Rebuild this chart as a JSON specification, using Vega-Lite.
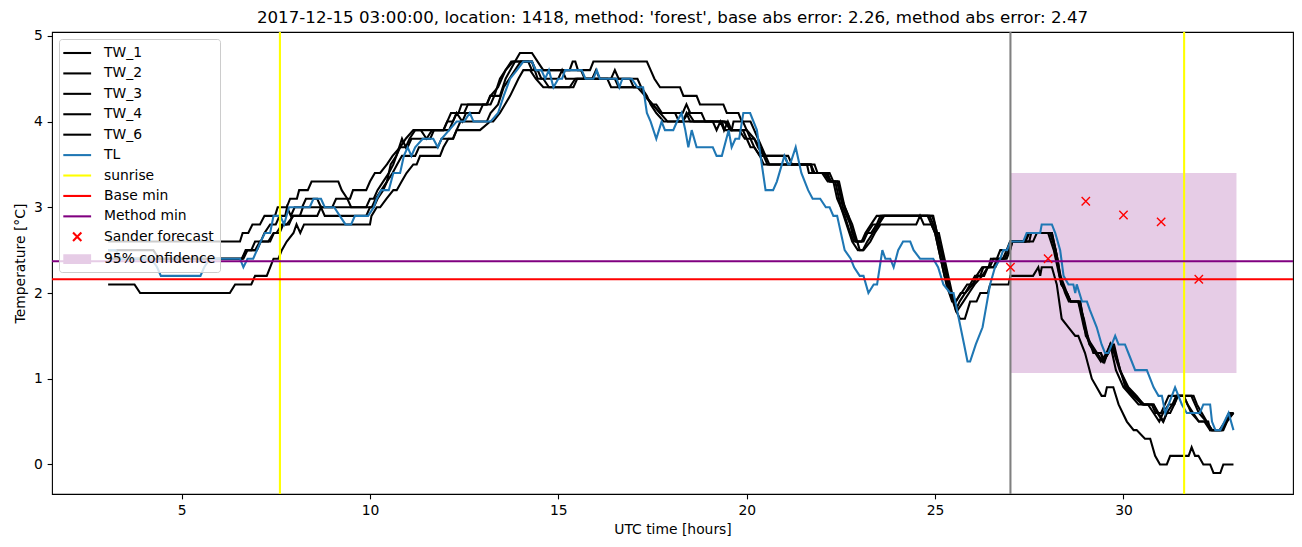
{
"$schema": "https://vega.github.io/schema/vega-lite/v6.json",
"width": 1241, "height": 462,
"autosize": "none",
"padding": {"left": 52, "top": 32, "right": 9, "bottom": 53},
"background": "white",
"title": {"text": "2017-12-15 03:00:00, location: 1418, method: 'forest', base abs error: 2.26, method abs error: 2.47", "font": "DejaVu Sans", "fontSize": 16.67, "fontWeight": "normal", "color": "black", "anchor": "middle", "frame": "group", "offset": -11, "baseline": "alphabetic"},
"config": {
 "view": {"stroke": "black", "strokeWidth": 1.1},
 "font": "DejaVu Sans",
 "axis": {"domain": false, "grid": false, "tickColor": "black", "tickSize": 4.86, "tickWidth": 1.1, "labelFont": "DejaVu Sans", "labelFontSize": 13.89, "labelColor": "black", "labelPadding": 4.86, "labelFlush": false, "titleFont": "DejaVu Sans", "titleFontSize": 13.89, "titleFontWeight": "normal", "titleColor": "black"},
 "axisX": {"titlePadding": 5},
 "axisY": {"titlePadding": 6}
},
"datasets": {
 "tw": [
{"s":"TW_1","h":3.05,"v":2.1},{"s":"TW_1","h":3.75,"v":2.1},{"s":"TW_1","h":3.9,"v":2.0},{"s":"TW_1","h":6.28,"v":2.0},{"s":"TW_1","h":6.42,"v":2.1},{"s":"TW_1","h":6.85,"v":2.1},{"s":"TW_1","h":6.95,"v":2.2},{"s":"TW_1","h":7.26,"v":2.2},{"s":"TW_1","h":7.35,"v":2.3},{"s":"TW_1","h":7.44,"v":2.4},{"s":"TW_1","h":7.57,"v":2.4},{"s":"TW_1","h":7.66,"v":2.5},{"s":"TW_1","h":7.79,"v":2.6},{"s":"TW_1","h":7.97,"v":2.7},{"s":"TW_1","h":8.05,"v":2.8},{"s":"TW_1","h":8.15,"v":2.7},{"s":"TW_1","h":8.25,"v":2.8},{"s":"TW_1","h":10.0,"v":2.8},{"s":"TW_1","h":10.04,"v":2.9},{"s":"TW_1","h":10.18,"v":3.0},{"s":"TW_1","h":10.27,"v":3.0},{"s":"TW_1","h":10.44,"v":3.1},{"s":"TW_1","h":10.62,"v":3.2},{"s":"TW_1","h":10.71,"v":3.2},{"s":"TW_1","h":10.84,"v":3.3},{"s":"TW_1","h":10.97,"v":3.4},{"s":"TW_1","h":11.15,"v":3.5},{"s":"TW_1","h":11.24,"v":3.5},{"s":"TW_1","h":11.33,"v":3.6},{"s":"TW_1","h":11.86,"v":3.6},{"s":"TW_1","h":11.95,"v":3.7},{"s":"TW_1","h":12.08,"v":3.8},{"s":"TW_1","h":12.21,"v":3.8},{"s":"TW_1","h":12.3,"v":3.9},{"s":"TW_1","h":12.92,"v":3.9},{"s":"TW_1","h":13.19,"v":4.0},{"s":"TW_1","h":13.27,"v":4.0},{"s":"TW_1","h":13.45,"v":4.1},{"s":"TW_1","h":13.72,"v":4.3},{"s":"TW_1","h":13.94,"v":4.5},{"s":"TW_1","h":14.07,"v":4.6},{"s":"TW_1","h":14.25,"v":4.6},{"s":"TW_1","h":14.4,"v":4.5},{"s":"TW_1","h":14.6,"v":4.4},{"s":"TW_1","h":15.3,"v":4.4},{"s":"TW_1","h":15.45,"v":4.5},{"s":"TW_1","h":16.3,"v":4.5},{"s":"TW_1","h":16.4,"v":4.4},{"s":"TW_1","h":17.1,"v":4.4},{"s":"TW_1","h":17.3,"v":4.3},{"s":"TW_1","h":17.5,"v":4.2},{"s":"TW_1","h":17.7,"v":4.1},{"s":"TW_1","h":17.9,"v":4.0},{"s":"TW_1","h":18.3,"v":4.0},{"s":"TW_1","h":18.45,"v":4.1},{"s":"TW_1","h":18.6,"v":4.0},{"s":"TW_1","h":19.4,"v":4.0},{"s":"TW_1","h":19.6,"v":3.9},{"s":"TW_1","h":20.0,"v":3.9},{"s":"TW_1","h":20.2,"v":3.8},{"s":"TW_1","h":20.35,"v":3.7},{"s":"TW_1","h":20.5,"v":3.6},{"s":"TW_1","h":20.6,"v":3.5},{"s":"TW_1","h":21.7,"v":3.5},{"s":"TW_1","h":21.8,"v":3.4},{"s":"TW_1","h":22.2,"v":3.4},{"s":"TW_1","h":22.3,"v":3.3},{"s":"TW_1","h":22.45,"v":3.3},{"s":"TW_1","h":22.6,"v":3.0},{"s":"TW_1","h":22.8,"v":2.8},{"s":"TW_1","h":23.0,"v":2.5},{"s":"TW_1","h":23.1,"v":2.5},{"s":"TW_1","h":23.28,"v":2.6},{"s":"TW_1","h":23.4,"v":2.7},{"s":"TW_1","h":23.55,"v":2.8},{"s":"TW_1","h":24.5,"v":2.8},{"s":"TW_1","h":24.6,"v":2.9},{"s":"TW_1","h":24.7,"v":2.8},{"s":"TW_1","h":24.9,"v":2.8},{"s":"TW_1","h":25.0,"v":2.7},{"s":"TW_1","h":25.1,"v":2.7},{"s":"TW_1","h":25.25,"v":2.4},{"s":"TW_1","h":25.4,"v":2.1},{"s":"TW_1","h":25.55,"v":1.8},{"s":"TW_1","h":25.66,"v":1.7},{"s":"TW_1","h":25.79,"v":1.7},{"s":"TW_1","h":25.93,"v":1.9},{"s":"TW_1","h":26.1,"v":1.9},{"s":"TW_1","h":26.2,"v":2.0},{"s":"TW_1","h":26.4,"v":2.0},{"s":"TW_1","h":26.46,"v":2.1},{"s":"TW_1","h":26.95,"v":2.1},{"s":"TW_1","h":27.0,"v":2.2},{"s":"TW_1","h":27.6,"v":2.2},{"s":"TW_1","h":27.74,"v":2.3},{"s":"TW_1","h":27.79,"v":2.2},{"s":"TW_1","h":27.83,"v":2.3},{"s":"TW_1","h":28.1,"v":2.3},{"s":"TW_1","h":28.23,"v":2.1},{"s":"TW_1","h":28.36,"v":1.7},{"s":"TW_1","h":28.54,"v":1.6},{"s":"TW_1","h":28.72,"v":1.5},{"s":"TW_1","h":28.8,"v":1.5},{"s":"TW_1","h":28.98,"v":1.3},{"s":"TW_1","h":29.16,"v":1.0},{"s":"TW_1","h":29.29,"v":0.9},{"s":"TW_1","h":29.42,"v":0.8},{"s":"TW_1","h":29.51,"v":0.8},{"s":"TW_1","h":29.56,"v":0.9},{"s":"TW_1","h":29.73,"v":0.9},{"s":"TW_1","h":29.87,"v":0.7},{"s":"TW_1","h":30.09,"v":0.5},{"s":"TW_1","h":30.27,"v":0.4},{"s":"TW_1","h":30.35,"v":0.4},{"s":"TW_1","h":30.57,"v":0.3},{"s":"TW_1","h":30.71,"v":0.3},{"s":"TW_1","h":30.84,"v":0.1},{"s":"TW_1","h":30.97,"v":0.0},{"s":"TW_1","h":31.15,"v":0.0},{"s":"TW_1","h":31.24,"v":0.1},{"s":"TW_1","h":31.73,"v":0.1},{"s":"TW_1","h":31.81,"v":0.2},{"s":"TW_1","h":31.9,"v":0.1},{"s":"TW_1","h":31.99,"v":0.1},{"s":"TW_1","h":32.12,"v":0.0},{"s":"TW_1","h":32.3,"v":0.0},{"s":"TW_1","h":32.39,"v":-0.1},{"s":"TW_1","h":32.57,"v":-0.1},{"s":"TW_1","h":32.65,"v":0.0},{"s":"TW_1","h":32.92,"v":0.0},
{"s":"TW_2","h":3.05,"v":2.6},{"s":"TW_2","h":6.55,"v":2.6},{"s":"TW_2","h":6.62,"v":2.7},{"s":"TW_2","h":6.77,"v":2.7},{"s":"TW_2","h":6.88,"v":2.8},{"s":"TW_2","h":7.08,"v":2.8},{"s":"TW_2","h":7.2,"v":2.9},{"s":"TW_2","h":7.48,"v":2.9},{"s":"TW_2","h":7.55,"v":3.0},{"s":"TW_2","h":7.79,"v":3.0},{"s":"TW_2","h":7.88,"v":3.1},{"s":"TW_2","h":8.06,"v":3.1},{"s":"TW_2","h":8.12,"v":3.2},{"s":"TW_2","h":8.35,"v":3.2},{"s":"TW_2","h":8.45,"v":3.3},{"s":"TW_2","h":9.16,"v":3.3},{"s":"TW_2","h":9.25,"v":3.2},{"s":"TW_2","h":9.4,"v":3.1},{"s":"TW_2","h":9.47,"v":3.1},{"s":"TW_2","h":9.55,"v":3.2},{"s":"TW_2","h":9.9,"v":3.2},{"s":"TW_2","h":10.0,"v":3.3},{"s":"TW_2","h":10.13,"v":3.4},{"s":"TW_2","h":10.27,"v":3.4},{"s":"TW_2","h":10.45,"v":3.5},{"s":"TW_2","h":10.6,"v":3.6},{"s":"TW_2","h":10.8,"v":3.7},{"s":"TW_2","h":10.95,"v":3.8},{"s":"TW_2","h":11.15,"v":3.9},{"s":"TW_2","h":11.95,"v":3.9},{"s":"TW_2","h":12.05,"v":4.0},{"s":"TW_2","h":12.15,"v":4.1},{"s":"TW_2","h":12.35,"v":4.1},{"s":"TW_2","h":12.43,"v":4.2},{"s":"TW_2","h":13.1,"v":4.2},{"s":"TW_2","h":13.19,"v":4.3},{"s":"TW_2","h":13.45,"v":4.3},{"s":"TW_2","h":13.6,"v":4.5},{"s":"TW_2","h":13.85,"v":4.7},{"s":"TW_2","h":13.98,"v":4.8},{"s":"TW_2","h":14.3,"v":4.8},{"s":"TW_2","h":14.45,"v":4.7},{"s":"TW_2","h":14.6,"v":4.6},{"s":"TW_2","h":15.3,"v":4.6},{"s":"TW_2","h":15.38,"v":4.7},{"s":"TW_2","h":15.45,"v":4.7},{"s":"TW_2","h":15.52,"v":4.6},{"s":"TW_2","h":15.84,"v":4.6},{"s":"TW_2","h":15.93,"v":4.7},{"s":"TW_2","h":17.35,"v":4.7},{"s":"TW_2","h":17.45,"v":4.6},{"s":"TW_2","h":17.55,"v":4.5},{"s":"TW_2","h":17.7,"v":4.4},{"s":"TW_2","h":18.23,"v":4.4},{"s":"TW_2","h":18.32,"v":4.3},{"s":"TW_2","h":18.67,"v":4.3},{"s":"TW_2","h":18.76,"v":4.2},{"s":"TW_2","h":19.38,"v":4.2},{"s":"TW_2","h":19.47,"v":4.1},{"s":"TW_2","h":19.78,"v":4.1},{"s":"TW_2","h":19.87,"v":4.0},{"s":"TW_2","h":20.1,"v":4.0},{"s":"TW_2","h":20.2,"v":3.9},{"s":"TW_2","h":20.3,"v":3.8},{"s":"TW_2","h":20.4,"v":3.7},{"s":"TW_2","h":20.5,"v":3.6},{"s":"TW_2","h":21.1,"v":3.6},{"s":"TW_2","h":21.2,"v":3.5},{"s":"TW_2","h":21.8,"v":3.5},{"s":"TW_2","h":21.88,"v":3.4},{"s":"TW_2","h":22.15,"v":3.4},{"s":"TW_2","h":22.22,"v":3.3},{"s":"TW_2","h":22.42,"v":3.3},{"s":"TW_2","h":22.52,"v":3.1},{"s":"TW_2","h":22.7,"v":2.9},{"s":"TW_2","h":22.8,"v":2.7},{"s":"TW_2","h":22.9,"v":2.6},{"s":"TW_2","h":23.05,"v":2.6},{"s":"TW_2","h":23.2,"v":2.7},{"s":"TW_2","h":23.35,"v":2.8},{"s":"TW_2","h":23.5,"v":2.8},{"s":"TW_2","h":23.6,"v":2.9},{"s":"TW_2","h":24.92,"v":2.9},{"s":"TW_2","h":25.0,"v":2.8},{"s":"TW_2","h":25.1,"v":2.6},{"s":"TW_2","h":25.22,"v":2.4},{"s":"TW_2","h":25.32,"v":2.2},{"s":"TW_2","h":25.42,"v":2.0},{"s":"TW_2","h":25.55,"v":1.9},{"s":"TW_2","h":25.68,"v":2.0},{"s":"TW_2","h":25.8,"v":2.0},{"s":"TW_2","h":25.93,"v":2.1},{"s":"TW_2","h":26.06,"v":2.2},{"s":"TW_2","h":26.2,"v":2.2},{"s":"TW_2","h":26.28,"v":2.3},{"s":"TW_2","h":26.42,"v":2.3},{"s":"TW_2","h":26.48,"v":2.4},{"s":"TW_2","h":26.64,"v":2.4},{"s":"TW_2","h":26.73,"v":2.5},{"s":"TW_2","h":26.99,"v":2.5},{"s":"TW_2","h":27.05,"v":2.6},{"s":"TW_2","h":27.4,"v":2.6},{"s":"TW_2","h":27.45,"v":2.7},{"s":"TW_2","h":28.1,"v":2.7},{"s":"TW_2","h":28.2,"v":2.5},{"s":"TW_2","h":28.33,"v":2.2},{"s":"TW_2","h":28.5,"v":2.0},{"s":"TW_2","h":28.6,"v":1.9},{"s":"TW_2","h":28.85,"v":1.9},{"s":"TW_2","h":28.98,"v":1.6},{"s":"TW_2","h":29.1,"v":1.4},{"s":"TW_2","h":29.25,"v":1.3},{"s":"TW_2","h":29.4,"v":1.3},{"s":"TW_2","h":29.47,"v":1.2},{"s":"TW_2","h":29.6,"v":1.3},{"s":"TW_2","h":29.7,"v":1.4},{"s":"TW_2","h":29.75,"v":1.4},{"s":"TW_2","h":29.91,"v":1.1},{"s":"TW_2","h":30.13,"v":0.9},{"s":"TW_2","h":30.35,"v":0.8},{"s":"TW_2","h":30.53,"v":0.7},{"s":"TW_2","h":30.8,"v":0.7},{"s":"TW_2","h":30.93,"v":0.6},{"s":"TW_2","h":31.06,"v":0.5},{"s":"TW_2","h":31.15,"v":0.6},{"s":"TW_2","h":31.24,"v":0.6},{"s":"TW_2","h":31.35,"v":0.7},{"s":"TW_2","h":31.42,"v":0.8},{"s":"TW_2","h":31.86,"v":0.8},{"s":"TW_2","h":31.95,"v":0.7},{"s":"TW_2","h":32.08,"v":0.6},{"s":"TW_2","h":32.21,"v":0.5},{"s":"TW_2","h":32.35,"v":0.4},{"s":"TW_2","h":32.62,"v":0.4},{"s":"TW_2","h":32.74,"v":0.5},{"s":"TW_2","h":32.84,"v":0.6},{"s":"TW_2","h":32.92,"v":0.6},
{"s":"TW_3","h":3.05,"v":2.5},{"s":"TW_3","h":4.25,"v":2.5},{"s":"TW_3","h":4.4,"v":2.4},{"s":"TW_3","h":6.6,"v":2.4},{"s":"TW_3","h":6.73,"v":2.5},{"s":"TW_3","h":6.95,"v":2.5},{"s":"TW_3","h":7.08,"v":2.6},{"s":"TW_3","h":7.3,"v":2.6},{"s":"TW_3","h":7.44,"v":2.7},{"s":"TW_3","h":7.52,"v":2.7},{"s":"TW_3","h":7.66,"v":2.8},{"s":"TW_3","h":7.79,"v":2.8},{"s":"TW_3","h":7.97,"v":2.9},{"s":"TW_3","h":8.14,"v":2.9},{"s":"TW_3","h":8.22,"v":3.0},{"s":"TW_3","h":9.0,"v":3.0},{"s":"TW_3","h":9.1,"v":3.1},{"s":"TW_3","h":9.4,"v":3.1},{"s":"TW_3","h":9.5,"v":3.0},{"s":"TW_3","h":9.9,"v":3.0},{"s":"TW_3","h":10.0,"v":3.1},{"s":"TW_3","h":10.1,"v":3.1},{"s":"TW_3","h":10.2,"v":3.2},{"s":"TW_3","h":10.35,"v":3.3},{"s":"TW_3","h":10.5,"v":3.4},{"s":"TW_3","h":10.62,"v":3.5},{"s":"TW_3","h":10.7,"v":3.6},{"s":"TW_3","h":10.8,"v":3.7},{"s":"TW_3","h":11.0,"v":3.7},{"s":"TW_3","h":11.1,"v":3.8},{"s":"TW_3","h":11.6,"v":3.8},{"s":"TW_3","h":11.7,"v":3.9},{"s":"TW_3","h":12.1,"v":3.9},{"s":"TW_3","h":12.2,"v":4.0},{"s":"TW_3","h":12.3,"v":4.1},{"s":"TW_3","h":12.5,"v":4.1},{"s":"TW_3","h":12.6,"v":4.2},{"s":"TW_3","h":13.1,"v":4.2},{"s":"TW_3","h":13.2,"v":4.3},{"s":"TW_3","h":13.4,"v":4.4},{"s":"TW_3","h":13.6,"v":4.6},{"s":"TW_3","h":13.8,"v":4.7},{"s":"TW_3","h":14.3,"v":4.7},{"s":"TW_3","h":14.4,"v":4.6},{"s":"TW_3","h":15.6,"v":4.6},{"s":"TW_3","h":15.7,"v":4.5},{"s":"TW_3","h":16.9,"v":4.5},{"s":"TW_3","h":17.0,"v":4.4},{"s":"TW_3","h":17.2,"v":4.4},{"s":"TW_3","h":17.3,"v":4.3},{"s":"TW_3","h":17.5,"v":4.2},{"s":"TW_3","h":17.7,"v":4.1},{"s":"TW_3","h":18.1,"v":4.1},{"s":"TW_3","h":18.2,"v":4.0},{"s":"TW_3","h":18.3,"v":4.0},{"s":"TW_3","h":18.4,"v":4.1},{"s":"TW_3","h":18.5,"v":4.0},{"s":"TW_3","h":19.1,"v":4.0},{"s":"TW_3","h":19.2,"v":3.9},{"s":"TW_3","h":19.3,"v":4.0},{"s":"TW_3","h":19.4,"v":3.9},{"s":"TW_3","h":19.6,"v":3.9},{"s":"TW_3","h":19.65,"v":4.0},{"s":"TW_3","h":19.9,"v":4.0},{"s":"TW_3","h":20.0,"v":3.9},{"s":"TW_3","h":20.1,"v":3.8},{"s":"TW_3","h":20.2,"v":3.8},{"s":"TW_3","h":20.3,"v":3.7},{"s":"TW_3","h":20.45,"v":3.6},{"s":"TW_3","h":20.55,"v":3.5},{"s":"TW_3","h":21.6,"v":3.5},{"s":"TW_3","h":21.65,"v":3.4},{"s":"TW_3","h":22.0,"v":3.4},{"s":"TW_3","h":22.15,"v":3.3},{"s":"TW_3","h":22.3,"v":3.3},{"s":"TW_3","h":22.4,"v":3.1},{"s":"TW_3","h":22.6,"v":2.9},{"s":"TW_3","h":22.75,"v":2.7},{"s":"TW_3","h":22.85,"v":2.6},{"s":"TW_3","h":23.05,"v":2.6},{"s":"TW_3","h":23.15,"v":2.7},{"s":"TW_3","h":23.3,"v":2.8},{"s":"TW_3","h":23.45,"v":2.9},{"s":"TW_3","h":24.85,"v":2.9},{"s":"TW_3","h":24.95,"v":2.8},{"s":"TW_3","h":25.05,"v":2.6},{"s":"TW_3","h":25.25,"v":2.2},{"s":"TW_3","h":25.4,"v":2.0},{"s":"TW_3","h":25.55,"v":1.8},{"s":"TW_3","h":25.65,"v":1.9},{"s":"TW_3","h":25.8,"v":2.0},{"s":"TW_3","h":26.0,"v":2.1},{"s":"TW_3","h":26.15,"v":2.2},{"s":"TW_3","h":26.3,"v":2.2},{"s":"TW_3","h":26.4,"v":2.3},{"s":"TW_3","h":26.55,"v":2.3},{"s":"TW_3","h":26.65,"v":2.4},{"s":"TW_3","h":26.85,"v":2.4},{"s":"TW_3","h":26.95,"v":2.5},{"s":"TW_3","h":27.0,"v":2.6},{"s":"TW_3","h":27.5,"v":2.6},{"s":"TW_3","h":27.55,"v":2.7},{"s":"TW_3","h":28.1,"v":2.7},{"s":"TW_3","h":28.25,"v":2.4},{"s":"TW_3","h":28.35,"v":2.1},{"s":"TW_3","h":28.5,"v":2.0},{"s":"TW_3","h":28.6,"v":1.9},{"s":"TW_3","h":28.8,"v":1.9},{"s":"TW_3","h":28.95,"v":1.6},{"s":"TW_3","h":29.1,"v":1.4},{"s":"TW_3","h":29.25,"v":1.3},{"s":"TW_3","h":29.4,"v":1.2},{"s":"TW_3","h":29.55,"v":1.3},{"s":"TW_3","h":29.65,"v":1.4},{"s":"TW_3","h":29.8,"v":1.1},{"s":"TW_3","h":30.0,"v":0.9},{"s":"TW_3","h":30.2,"v":0.8},{"s":"TW_3","h":30.4,"v":0.7},{"s":"TW_3","h":30.65,"v":0.7},{"s":"TW_3","h":30.8,"v":0.6},{"s":"TW_3","h":30.95,"v":0.5},{"s":"TW_3","h":31.05,"v":0.6},{"s":"TW_3","h":31.2,"v":0.7},{"s":"TW_3","h":31.35,"v":0.7},{"s":"TW_3","h":31.45,"v":0.8},{"s":"TW_3","h":31.6,"v":0.8},{"s":"TW_3","h":31.7,"v":0.7},{"s":"TW_3","h":31.85,"v":0.6},{"s":"TW_3","h":32.0,"v":0.5},{"s":"TW_3","h":32.15,"v":0.5},{"s":"TW_3","h":32.3,"v":0.4},{"s":"TW_3","h":32.6,"v":0.4},{"s":"TW_3","h":32.7,"v":0.5},{"s":"TW_3","h":32.92,"v":0.6},
{"s":"TW_4","h":3.05,"v":2.4},{"s":"TW_4","h":6.6,"v":2.4},{"s":"TW_4","h":6.7,"v":2.5},{"s":"TW_4","h":6.85,"v":2.5},{"s":"TW_4","h":6.95,"v":2.6},{"s":"TW_4","h":7.1,"v":2.6},{"s":"TW_4","h":7.2,"v":2.7},{"s":"TW_4","h":7.35,"v":2.8},{"s":"TW_4","h":7.5,"v":2.8},{"s":"TW_4","h":7.6,"v":2.9},{"s":"TW_4","h":7.75,"v":2.9},{"s":"TW_4","h":7.8,"v":3.0},{"s":"TW_4","h":7.9,"v":2.9},{"s":"TW_4","h":8.0,"v":3.0},{"s":"TW_4","h":8.2,"v":3.0},{"s":"TW_4","h":8.3,"v":3.1},{"s":"TW_4","h":8.6,"v":3.1},{"s":"TW_4","h":8.7,"v":3.0},{"s":"TW_4","h":10.05,"v":3.0},{"s":"TW_4","h":10.15,"v":3.1},{"s":"TW_4","h":10.3,"v":3.2},{"s":"TW_4","h":10.45,"v":3.3},{"s":"TW_4","h":10.6,"v":3.4},{"s":"TW_4","h":10.72,"v":3.5},{"s":"TW_4","h":10.85,"v":3.6},{"s":"TW_4","h":11.2,"v":3.6},{"s":"TW_4","h":11.3,"v":3.7},{"s":"TW_4","h":11.8,"v":3.7},{"s":"TW_4","h":11.9,"v":3.8},{"s":"TW_4","h":12.2,"v":3.8},{"s":"TW_4","h":12.3,"v":3.9},{"s":"TW_4","h":12.4,"v":4.0},{"s":"TW_4","h":13.1,"v":4.0},{"s":"TW_4","h":13.2,"v":4.1},{"s":"TW_4","h":13.4,"v":4.2},{"s":"TW_4","h":13.55,"v":4.4},{"s":"TW_4","h":13.7,"v":4.5},{"s":"TW_4","h":13.85,"v":4.6},{"s":"TW_4","h":14.0,"v":4.7},{"s":"TW_4","h":14.3,"v":4.7},{"s":"TW_4","h":14.45,"v":4.5},{"s":"TW_4","h":14.6,"v":4.5},{"s":"TW_4","h":14.75,"v":4.4},{"s":"TW_4","h":15.4,"v":4.4},{"s":"TW_4","h":15.5,"v":4.5},{"s":"TW_4","h":16.5,"v":4.5},{"s":"TW_4","h":16.6,"v":4.4},{"s":"TW_4","h":17.2,"v":4.4},{"s":"TW_4","h":17.35,"v":4.3},{"s":"TW_4","h":17.45,"v":4.2},{"s":"TW_4","h":17.6,"v":4.1},{"s":"TW_4","h":17.8,"v":4.0},{"s":"TW_4","h":19.45,"v":4.0},{"s":"TW_4","h":19.55,"v":3.9},{"s":"TW_4","h":19.9,"v":3.9},{"s":"TW_4","h":20.0,"v":3.8},{"s":"TW_4","h":20.1,"v":3.7},{"s":"TW_4","h":20.2,"v":3.7},{"s":"TW_4","h":20.35,"v":3.6},{"s":"TW_4","h":20.45,"v":3.5},{"s":"TW_4","h":21.7,"v":3.5},{"s":"TW_4","h":21.78,"v":3.4},{"s":"TW_4","h":22.05,"v":3.4},{"s":"TW_4","h":22.2,"v":3.3},{"s":"TW_4","h":22.35,"v":3.3},{"s":"TW_4","h":22.5,"v":3.0},{"s":"TW_4","h":22.65,"v":2.8},{"s":"TW_4","h":22.8,"v":2.6},{"s":"TW_4","h":22.95,"v":2.5},{"s":"TW_4","h":23.08,"v":2.5},{"s":"TW_4","h":23.2,"v":2.6},{"s":"TW_4","h":23.35,"v":2.7},{"s":"TW_4","h":23.5,"v":2.8},{"s":"TW_4","h":23.65,"v":2.9},{"s":"TW_4","h":24.95,"v":2.9},{"s":"TW_4","h":25.05,"v":2.7},{"s":"TW_4","h":25.2,"v":2.4},{"s":"TW_4","h":25.35,"v":2.1},{"s":"TW_4","h":25.5,"v":1.9},{"s":"TW_4","h":25.6,"v":1.8},{"s":"TW_4","h":25.75,"v":1.9},{"s":"TW_4","h":25.9,"v":2.0},{"s":"TW_4","h":26.05,"v":2.1},{"s":"TW_4","h":26.25,"v":2.2},{"s":"TW_4","h":26.4,"v":2.3},{"s":"TW_4","h":26.6,"v":2.3},{"s":"TW_4","h":26.7,"v":2.4},{"s":"TW_4","h":26.9,"v":2.4},{"s":"TW_4","h":26.99,"v":2.5},{"s":"TW_4","h":27.05,"v":2.6},{"s":"TW_4","h":27.4,"v":2.6},{"s":"TW_4","h":27.5,"v":2.7},{"s":"TW_4","h":28.05,"v":2.7},{"s":"TW_4","h":28.2,"v":2.5},{"s":"TW_4","h":28.3,"v":2.2},{"s":"TW_4","h":28.45,"v":2.0},{"s":"TW_4","h":28.55,"v":1.9},{"s":"TW_4","h":28.85,"v":1.9},{"s":"TW_4","h":29.0,"v":1.5},{"s":"TW_4","h":29.15,"v":1.4},{"s":"TW_4","h":29.3,"v":1.3},{"s":"TW_4","h":29.45,"v":1.2},{"s":"TW_4","h":29.6,"v":1.3},{"s":"TW_4","h":29.7,"v":1.4},{"s":"TW_4","h":29.85,"v":1.2},{"s":"TW_4","h":30.05,"v":0.9},{"s":"TW_4","h":30.25,"v":0.8},{"s":"TW_4","h":30.5,"v":0.7},{"s":"TW_4","h":30.8,"v":0.7},{"s":"TW_4","h":30.9,"v":0.6},{"s":"TW_4","h":31.05,"v":0.5},{"s":"TW_4","h":31.15,"v":0.6},{"s":"TW_4","h":31.3,"v":0.7},{"s":"TW_4","h":31.4,"v":0.8},{"s":"TW_4","h":31.8,"v":0.8},{"s":"TW_4","h":31.9,"v":0.7},{"s":"TW_4","h":32.0,"v":0.6},{"s":"TW_4","h":32.2,"v":0.5},{"s":"TW_4","h":32.35,"v":0.4},{"s":"TW_4","h":32.65,"v":0.4},{"s":"TW_4","h":32.75,"v":0.5},{"s":"TW_4","h":32.92,"v":0.6},
{"s":"TW_6","h":3.05,"v":2.4},{"s":"TW_6","h":6.64,"v":2.4},{"s":"TW_6","h":6.75,"v":2.5},{"s":"TW_6","h":7.0,"v":2.5},{"s":"TW_6","h":7.1,"v":2.6},{"s":"TW_6","h":7.35,"v":2.6},{"s":"TW_6","h":7.45,"v":2.7},{"s":"TW_6","h":7.6,"v":2.7},{"s":"TW_6","h":7.7,"v":2.8},{"s":"TW_6","h":7.85,"v":2.8},{"s":"TW_6","h":7.95,"v":2.9},{"s":"TW_6","h":8.6,"v":2.9},{"s":"TW_6","h":8.7,"v":3.0},{"s":"TW_6","h":8.8,"v":2.9},{"s":"TW_6","h":9.9,"v":2.9},{"s":"TW_6","h":10.0,"v":3.0},{"s":"TW_6","h":10.1,"v":3.0},{"s":"TW_6","h":10.2,"v":3.1},{"s":"TW_6","h":10.35,"v":3.2},{"s":"TW_6","h":10.45,"v":3.3},{"s":"TW_6","h":10.55,"v":3.5},{"s":"TW_6","h":10.7,"v":3.6},{"s":"TW_6","h":10.85,"v":3.8},{"s":"TW_6","h":10.95,"v":3.7},{"s":"TW_6","h":11.05,"v":3.8},{"s":"TW_6","h":11.2,"v":3.9},{"s":"TW_6","h":11.35,"v":3.9},{"s":"TW_6","h":11.5,"v":3.8},{"s":"TW_6","h":11.65,"v":3.9},{"s":"TW_6","h":11.95,"v":3.9},{"s":"TW_6","h":12.05,"v":4.0},{"s":"TW_6","h":12.2,"v":4.0},{"s":"TW_6","h":12.3,"v":4.1},{"s":"TW_6","h":12.45,"v":4.0},{"s":"TW_6","h":12.55,"v":4.1},{"s":"TW_6","h":12.9,"v":4.1},{"s":"TW_6","h":13.0,"v":4.2},{"s":"TW_6","h":13.2,"v":4.2},{"s":"TW_6","h":13.3,"v":4.3},{"s":"TW_6","h":13.45,"v":4.5},{"s":"TW_6","h":13.6,"v":4.6},{"s":"TW_6","h":13.75,"v":4.7},{"s":"TW_6","h":14.2,"v":4.7},{"s":"TW_6","h":14.3,"v":4.6},{"s":"TW_6","h":14.45,"v":4.6},{"s":"TW_6","h":14.55,"v":4.5},{"s":"TW_6","h":15.0,"v":4.5},{"s":"TW_6","h":15.1,"v":4.6},{"s":"TW_6","h":15.2,"v":4.5},{"s":"TW_6","h":15.9,"v":4.5},{"s":"TW_6","h":16.0,"v":4.6},{"s":"TW_6","h":16.1,"v":4.5},{"s":"TW_6","h":16.4,"v":4.5},{"s":"TW_6","h":16.5,"v":4.6},{"s":"TW_6","h":16.6,"v":4.5},{"s":"TW_6","h":17.1,"v":4.5},{"s":"TW_6","h":17.2,"v":4.4},{"s":"TW_6","h":17.3,"v":4.3},{"s":"TW_6","h":17.5,"v":4.2},{"s":"TW_6","h":17.6,"v":4.2},{"s":"TW_6","h":17.75,"v":4.1},{"s":"TW_6","h":18.3,"v":4.1},{"s":"TW_6","h":18.4,"v":4.2},{"s":"TW_6","h":18.5,"v":4.1},{"s":"TW_6","h":18.8,"v":4.1},{"s":"TW_6","h":18.9,"v":4.0},{"s":"TW_6","h":19.35,"v":4.0},{"s":"TW_6","h":19.4,"v":3.9},{"s":"TW_6","h":19.5,"v":4.0},{"s":"TW_6","h":19.6,"v":3.9},{"s":"TW_6","h":19.8,"v":3.9},{"s":"TW_6","h":19.95,"v":3.8},{"s":"TW_6","h":20.1,"v":3.8},{"s":"TW_6","h":20.2,"v":3.7},{"s":"TW_6","h":20.35,"v":3.6},{"s":"TW_6","h":21.0,"v":3.6},{"s":"TW_6","h":21.1,"v":3.5},{"s":"TW_6","h":21.7,"v":3.5},{"s":"TW_6","h":21.75,"v":3.4},{"s":"TW_6","h":22.1,"v":3.4},{"s":"TW_6","h":22.25,"v":3.3},{"s":"TW_6","h":22.4,"v":3.3},{"s":"TW_6","h":22.55,"v":3.0},{"s":"TW_6","h":22.75,"v":2.8},{"s":"TW_6","h":22.9,"v":2.6},{"s":"TW_6","h":23.1,"v":2.6},{"s":"TW_6","h":23.2,"v":2.7},{"s":"TW_6","h":23.3,"v":2.7},{"s":"TW_6","h":23.45,"v":2.8},{"s":"TW_6","h":23.55,"v":2.9},{"s":"TW_6","h":24.8,"v":2.9},{"s":"TW_6","h":24.9,"v":2.8},{"s":"TW_6","h":25.0,"v":2.7},{"s":"TW_6","h":25.15,"v":2.4},{"s":"TW_6","h":25.3,"v":2.1},{"s":"TW_6","h":25.45,"v":1.9},{"s":"TW_6","h":25.55,"v":1.9},{"s":"TW_6","h":25.7,"v":2.0},{"s":"TW_6","h":25.85,"v":2.1},{"s":"TW_6","h":26.0,"v":2.1},{"s":"TW_6","h":26.1,"v":2.2},{"s":"TW_6","h":26.25,"v":2.3},{"s":"TW_6","h":26.45,"v":2.3},{"s":"TW_6","h":26.55,"v":2.4},{"s":"TW_6","h":26.8,"v":2.4},{"s":"TW_6","h":26.9,"v":2.5},{"s":"TW_6","h":26.99,"v":2.6},{"s":"TW_6","h":27.6,"v":2.6},{"s":"TW_6","h":27.7,"v":2.7},{"s":"TW_6","h":28.0,"v":2.7},{"s":"TW_6","h":28.15,"v":2.5},{"s":"TW_6","h":28.25,"v":2.3},{"s":"TW_6","h":28.35,"v":2.1},{"s":"TW_6","h":28.5,"v":2.0},{"s":"TW_6","h":28.6,"v":1.9},{"s":"TW_6","h":28.8,"v":1.9},{"s":"TW_6","h":28.95,"v":1.7},{"s":"TW_6","h":29.05,"v":1.5},{"s":"TW_6","h":29.2,"v":1.3},{"s":"TW_6","h":29.4,"v":1.3},{"s":"TW_6","h":29.5,"v":1.2},{"s":"TW_6","h":29.65,"v":1.4},{"s":"TW_6","h":29.75,"v":1.3},{"s":"TW_6","h":29.9,"v":1.1},{"s":"TW_6","h":30.1,"v":0.9},{"s":"TW_6","h":30.3,"v":0.8},{"s":"TW_6","h":30.55,"v":0.7},{"s":"TW_6","h":30.75,"v":0.7},{"s":"TW_6","h":30.85,"v":0.6},{"s":"TW_6","h":31.0,"v":0.6},{"s":"TW_6","h":31.1,"v":0.7},{"s":"TW_6","h":31.2,"v":0.8},{"s":"TW_6","h":31.6,"v":0.8},{"s":"TW_6","h":31.7,"v":0.7},{"s":"TW_6","h":31.8,"v":0.6},{"s":"TW_6","h":32.0,"v":0.5},{"s":"TW_6","h":32.25,"v":0.5},{"s":"TW_6","h":32.3,"v":0.4},{"s":"TW_6","h":32.55,"v":0.4},{"s":"TW_6","h":32.7,"v":0.5},{"s":"TW_6","h":32.8,"v":0.6},{"s":"TW_6","h":32.92,"v":0.6}
 ],
 "tl": [
{"s":"TL","h":3.05,"v":2.5},{"s":"TL","h":3.25,"v":2.5},{"s":"TL","h":3.4,"v":2.4},{"s":"TL","h":4.2,"v":2.4},{"s":"TL","h":4.35,"v":2.3},{"s":"TL","h":4.45,"v":2.2},{"s":"TL","h":5.5,"v":2.2},{"s":"TL","h":5.6,"v":2.3},{"s":"TL","h":5.75,"v":2.4},{"s":"TL","h":6.55,"v":2.4},{"s":"TL","h":6.64,"v":2.3},{"s":"TL","h":6.75,"v":2.4},{"s":"TL","h":6.9,"v":2.4},{"s":"TL","h":7.0,"v":2.5},{"s":"TL","h":7.1,"v":2.6},{"s":"TL","h":7.21,"v":2.7},{"s":"TL","h":7.35,"v":2.7},{"s":"TL","h":7.44,"v":2.9},{"s":"TL","h":7.62,"v":2.9},{"s":"TL","h":7.72,"v":2.8},{"s":"TL","h":7.85,"v":3.0},{"s":"TL","h":8.4,"v":3.0},{"s":"TL","h":8.5,"v":3.1},{"s":"TL","h":8.7,"v":3.1},{"s":"TL","h":8.8,"v":3.0},{"s":"TL","h":9.05,"v":3.0},{"s":"TL","h":9.2,"v":2.9},{"s":"TL","h":9.35,"v":2.8},{"s":"TL","h":9.5,"v":2.8},{"s":"TL","h":9.6,"v":2.9},{"s":"TL","h":9.95,"v":2.9},{"s":"TL","h":10.1,"v":3.0},{"s":"TL","h":10.18,"v":3.1},{"s":"TL","h":10.3,"v":3.2},{"s":"TL","h":10.5,"v":3.2},{"s":"TL","h":10.62,"v":3.4},{"s":"TL","h":10.8,"v":3.4},{"s":"TL","h":10.9,"v":3.6},{"s":"TL","h":11.0,"v":3.7},{"s":"TL","h":11.1,"v":3.6},{"s":"TL","h":11.2,"v":3.7},{"s":"TL","h":11.4,"v":3.8},{"s":"TL","h":11.68,"v":3.8},{"s":"TL","h":11.8,"v":3.7},{"s":"TL","h":11.9,"v":3.8},{"s":"TL","h":12.1,"v":3.9},{"s":"TL","h":12.3,"v":4.0},{"s":"TL","h":12.5,"v":4.0},{"s":"TL","h":12.65,"v":4.1},{"s":"TL","h":12.75,"v":4.0},{"s":"TL","h":13.2,"v":4.0},{"s":"TL","h":13.4,"v":4.1},{"s":"TL","h":13.55,"v":4.3},{"s":"TL","h":13.72,"v":4.5},{"s":"TL","h":13.9,"v":4.6},{"s":"TL","h":14.07,"v":4.7},{"s":"TL","h":14.3,"v":4.7},{"s":"TL","h":14.4,"v":4.6},{"s":"TL","h":14.55,"v":4.6},{"s":"TL","h":14.65,"v":4.5},{"s":"TL","h":14.75,"v":4.6},{"s":"TL","h":14.87,"v":4.4},{"s":"TL","h":15.0,"v":4.5},{"s":"TL","h":15.1,"v":4.5},{"s":"TL","h":15.18,"v":4.6},{"s":"TL","h":15.62,"v":4.6},{"s":"TL","h":15.72,"v":4.5},{"s":"TL","h":15.93,"v":4.5},{"s":"TL","h":16.02,"v":4.6},{"s":"TL","h":16.1,"v":4.5},{"s":"TL","h":16.55,"v":4.5},{"s":"TL","h":16.62,"v":4.4},{"s":"TL","h":16.7,"v":4.5},{"s":"TL","h":16.95,"v":4.5},{"s":"TL","h":17.1,"v":4.4},{"s":"TL","h":17.25,"v":4.4},{"s":"TL","h":17.35,"v":4.1},{"s":"TL","h":17.45,"v":4.0},{"s":"TL","h":17.6,"v":3.8},{"s":"TL","h":17.74,"v":4.0},{"s":"TL","h":17.83,"v":3.9},{"s":"TL","h":18.05,"v":3.9},{"s":"TL","h":18.15,"v":4.0},{"s":"TL","h":18.27,"v":4.1},{"s":"TL","h":18.37,"v":3.9},{"s":"TL","h":18.45,"v":3.7},{"s":"TL","h":18.54,"v":3.9},{"s":"TL","h":18.67,"v":3.7},{"s":"TL","h":19.1,"v":3.7},{"s":"TL","h":19.2,"v":3.6},{"s":"TL","h":19.34,"v":3.6},{"s":"TL","h":19.52,"v":3.9},{"s":"TL","h":19.6,"v":3.7},{"s":"TL","h":19.7,"v":3.8},{"s":"TL","h":19.8,"v":3.8},{"s":"TL","h":19.91,"v":4.1},{"s":"TL","h":20.09,"v":4.1},{"s":"TL","h":20.27,"v":3.9},{"s":"TL","h":20.4,"v":3.5},{"s":"TL","h":20.5,"v":3.2},{"s":"TL","h":20.7,"v":3.2},{"s":"TL","h":20.8,"v":3.3},{"s":"TL","h":21.0,"v":3.6},{"s":"TL","h":21.1,"v":3.5},{"s":"TL","h":21.15,"v":3.5},{"s":"TL","h":21.3,"v":3.7},{"s":"TL","h":21.45,"v":3.4},{"s":"TL","h":21.63,"v":3.2},{"s":"TL","h":21.75,"v":3.1},{"s":"TL","h":21.95,"v":3.1},{"s":"TL","h":22.1,"v":3.0},{"s":"TL","h":22.2,"v":3.0},{"s":"TL","h":22.3,"v":2.9},{"s":"TL","h":22.4,"v":2.9},{"s":"TL","h":22.5,"v":2.7},{"s":"TL","h":22.6,"v":2.5},{"s":"TL","h":22.76,"v":2.4},{"s":"TL","h":22.85,"v":2.3},{"s":"TL","h":23.0,"v":2.2},{"s":"TL","h":23.1,"v":2.2},{"s":"TL","h":23.23,"v":2.0},{"s":"TL","h":23.37,"v":2.1},{"s":"TL","h":23.46,"v":2.1},{"s":"TL","h":23.6,"v":2.5},{"s":"TL","h":23.68,"v":2.4},{"s":"TL","h":23.81,"v":2.4},{"s":"TL","h":23.9,"v":2.3},{"s":"TL","h":24.02,"v":2.5},{"s":"TL","h":24.15,"v":2.6},{"s":"TL","h":24.34,"v":2.6},{"s":"TL","h":24.43,"v":2.5},{"s":"TL","h":24.6,"v":2.4},{"s":"TL","h":24.95,"v":2.4},{"s":"TL","h":25.08,"v":2.3},{"s":"TL","h":25.22,"v":2.1},{"s":"TL","h":25.4,"v":2.0},{"s":"TL","h":25.49,"v":2.0},{"s":"TL","h":25.63,"v":1.7},{"s":"TL","h":25.77,"v":1.4},{"s":"TL","h":25.86,"v":1.2},{"s":"TL","h":25.93,"v":1.2},{"s":"TL","h":26.08,"v":1.4},{"s":"TL","h":26.26,"v":1.6},{"s":"TL","h":26.38,"v":1.9},{"s":"TL","h":26.46,"v":2.1},{"s":"TL","h":26.59,"v":2.3},{"s":"TL","h":26.73,"v":2.4},{"s":"TL","h":26.81,"v":2.5},{"s":"TL","h":26.91,"v":2.5},{"s":"TL","h":27.0,"v":2.6},{"s":"TL","h":27.34,"v":2.6},{"s":"TL","h":27.43,"v":2.7},{"s":"TL","h":27.79,"v":2.7},{"s":"TL","h":27.83,"v":2.8},{"s":"TL","h":28.1,"v":2.8},{"s":"TL","h":28.19,"v":2.7},{"s":"TL","h":28.32,"v":2.5},{"s":"TL","h":28.41,"v":2.2},{"s":"TL","h":28.54,"v":2.1},{"s":"TL","h":28.67,"v":2.1},{"s":"TL","h":28.72,"v":2.0},{"s":"TL","h":28.76,"v":2.1},{"s":"TL","h":28.9,"v":1.9},{"s":"TL","h":29.03,"v":1.9},{"s":"TL","h":29.11,"v":1.8},{"s":"TL","h":29.29,"v":1.6},{"s":"TL","h":29.42,"v":1.4},{"s":"TL","h":29.51,"v":1.3},{"s":"TL","h":29.6,"v":1.3},{"s":"TL","h":29.69,"v":1.4},{"s":"TL","h":29.78,"v":1.5},{"s":"TL","h":29.87,"v":1.4},{"s":"TL","h":30.04,"v":1.4},{"s":"TL","h":30.13,"v":1.3},{"s":"TL","h":30.31,"v":1.1},{"s":"TL","h":30.62,"v":1.1},{"s":"TL","h":30.8,"v":0.9},{"s":"TL","h":30.93,"v":0.8},{"s":"TL","h":31.02,"v":0.8},{"s":"TL","h":31.11,"v":0.6},{"s":"TL","h":31.2,"v":0.7},{"s":"TL","h":31.37,"v":0.9},{"s":"TL","h":31.55,"v":0.7},{"s":"TL","h":31.68,"v":0.6},{"s":"TL","h":32.03,"v":0.6},{"s":"TL","h":32.12,"v":0.7},{"s":"TL","h":32.3,"v":0.7},{"s":"TL","h":32.35,"v":0.5},{"s":"TL","h":32.44,"v":0.4},{"s":"TL","h":32.57,"v":0.4},{"s":"TL","h":32.79,"v":0.6},{"s":"TL","h":32.92,"v":0.4}
 ]
},
"layer": [
 {
  "data": {"values": [{"h": 27, "h2": 33, "v": 1.066, "v2": 3.40}]},
  "mark": {"type": "rect", "color": "#800080", "opacity": 0.2},
  "encoding": {
   "x": {"field": "h", "type": "quantitative", "title": "UTC time [hours]", "scale": {"domain": [1.56, 34.5], "nice": false, "zero": false}, "axis": {"values": [5, 10, 15, 20, 25, 30], "format": "d"}},
   "x2": {"field": "h2"},
   "y": {"field": "v", "type": "quantitative", "title": "Temperature [°C]", "scale": {"domain": [-0.345, 5.045], "nice": false, "zero": false}, "axis": {"values": [0, 1, 2, 3, 4, 5], "format": "d"}},
   "y2": {"field": "v2"}
  }
 },
 {
  "data": {"name": "tw"},
  "mark": {"type": "line", "strokeWidth": 2.08},
  "encoding": {
   "x": {"field": "h", "type": "quantitative", "title": "UTC time [hours]"},
   "y": {"field": "v", "type": "quantitative", "title": "Temperature [°C]"},
   "color": {
    "field": "s", "type": "nominal",
    "scale": {"domain": ["TW_1", "TW_2", "TW_3", "TW_4", "TW_6", "TL", "sunrise", "Base min", "Method min", "Sander forecast", "95% confidence"],
              "range": ["#000000", "#000000", "#000000", "#000000", "#000000", "#1f77b4", "#ffff00", "#ff0000", "#800080", "#ff0000", "#e6cce6"]},
    "legend": {
     "title": null, "orient": "none", "legendX": 7, "legendY": 7, "direction": "vertical",
     "padding": 4, "fillColor": "rgba(255,255,255,0.8)", "strokeColor": "#cccccc", "cornerRadius": 2.8,
     "symbolSize": 302, "symbolStrokeWidth": 2.08, "symbolType": "M-1.6,0H1.6", "symbolOffset": 4.2,
     "labelFont": "DejaVu Sans", "labelFontSize": 13.89, "labelColor": "black", "labelOffset": 16.8, "labelLimit": 300, "rowPadding": 3.42
    }
   }
  }
 },
 {
  "data": {"name": "tl"},
  "mark": {"type": "line", "strokeWidth": 2.08},
  "encoding": {
   "x": {"field": "h", "type": "quantitative", "title": "UTC time [hours]"},
   "y": {"field": "v", "type": "quantitative", "title": "Temperature [°C]"},
   "color": {"field": "s", "type": "nominal"}
  }
 },
 {
  "data": {"values": [{"s": "sunrise", "h": 7.61}, {"s": "sunrise", "h": 31.61}]},
  "mark": {"type": "rule", "strokeWidth": 2.08},
  "encoding": {
   "x": {"field": "h", "type": "quantitative", "title": "UTC time [hours]"},
   "color": {"field": "s", "type": "nominal"}
  }
 },
 {
  "data": {"values": [{"h": 27}]},
  "mark": {"type": "rule", "strokeWidth": 2.08, "color": "#808080"},
  "encoding": {
   "x": {"field": "h", "type": "quantitative", "title": "UTC time [hours]"}
  }
 },
 {
  "data": {"values": [{"s": "Base min", "v": 2.16}, {"s": "Method min", "v": 2.37}]},
  "mark": {"type": "rule", "strokeWidth": 2.08},
  "encoding": {
   "y": {"field": "v", "type": "quantitative", "title": "Temperature [°C]"},
   "color": {"field": "s", "type": "nominal"}
  }
 },
 {
  "data": {"values": [{"s": "Sander forecast", "h": 27, "v": 2.30}, {"s": "Sander forecast", "h": 28, "v": 2.40}, {"s": "Sander forecast", "h": 29, "v": 3.07}, {"s": "Sander forecast", "h": 30, "v": 2.91}, {"s": "Sander forecast", "h": 31, "v": 2.83}, {"s": "Sander forecast", "h": 32, "v": 2.16}]},
  "mark": {"type": "point", "size": 302, "filled": false, "strokeWidth": 1.39, "opacity": 1},
  "encoding": {
   "x": {"field": "h", "type": "quantitative", "title": "UTC time [hours]"},
   "y": {"field": "v", "type": "quantitative", "title": "Temperature [°C]"},
   "color": {"field": "s", "type": "nominal"},
   "shape": {
    "field": "s", "type": "nominal",
    "scale": {"domain": ["TW_1", "TW_2", "TW_3", "TW_4", "TW_6", "TL", "sunrise", "Base min", "Method min", "Sander forecast", "95% confidence"],
              "range": ["M-1.6,0H1.6", "M-1.6,0H1.6", "M-1.6,0H1.6", "M-1.6,0H1.6", "M-1.6,0H1.6", "M-1.6,0H1.6", "M-1.6,0H1.6", "M-1.6,0H1.6", "M-1.6,0H1.6", "M-0.48,-0.48L0.48,0.48M-0.48,0.48L0.48,-0.48", "M-1.6,-0.44H1.6M-1.6,-0.22H1.6M-1.6,0H1.6M-1.6,0.22H1.6M-1.6,0.44H1.6"]}
   }
  }
 }
]
}
